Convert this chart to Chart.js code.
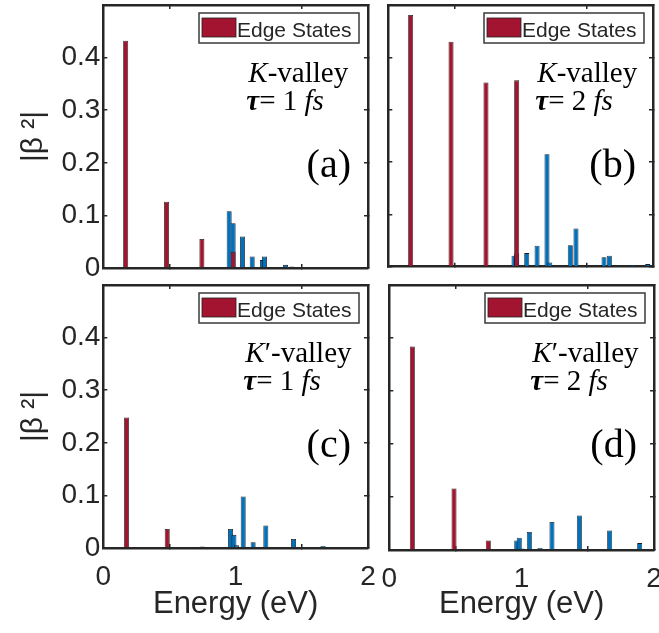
<!DOCTYPE html>
<html>
<head>
<meta charset="utf-8">
<script src="https://cdn.jsdelivr.net/npm/chart.js@4.4.0/dist/chart.umd.min.js"></script>
<style>
  body { margin: 0; background: #fff; }
  canvas { position: absolute; }
</style>
</head>
<body>
<canvas id="panel-a" width="378" height="280" style="left:0;top:0"></canvas>
<canvas id="panel-b" width="281" height="280" style="left:378px;top:0"></canvas>
<canvas id="panel-c" width="378" height="353" style="left:0;top:280px"></canvas>
<canvas id="panel-d" width="281" height="353" style="left:378px;top:280px"></canvas>
<script>
// (a) K-valley, tau = 1 fs
const edgeEnergyA = [0.169, 0.478, 0.745, 0.981];
const edgeBetaA   = [0.432, 0.126, 0.055, 0.031];
const bulkEnergyA = [0.951, 0.981, 1.052, 1.125, 1.203, 1.218, 1.377, 1.424, 1.907];
const bulkBetaA   = [0.108, 0.085, 0.060, 0.022, 0.015, 0.022, 0.006, 0.003, 0.002];
// (b) K-valley, tau = 2 fs
const edgeEnergyB = [0.169, 0.474, 0.738, 0.970];
const edgeBetaB   = [0.481, 0.430, 0.352, 0.356];
const bulkEnergyB = [0.950, 0.970, 1.046, 1.124, 1.199, 1.220, 1.375, 1.418, 1.630, 1.670, 1.846, 1.960];
const bulkBetaB   = [0.021, 0.025, 0.026, 0.040, 0.215, 0.008, 0.041, 0.073, 0.018, 0.021, 0.003, 0.005];
// (c) K'-valley, tau = 1 fs
const edgeEnergyC = [0.176, 0.483, 0.747];
const edgeBetaC   = [0.248, 0.036, 0.003];
const bulkEnergyC = [0.961, 0.987, 1.006, 1.057, 1.132, 1.228, 1.437, 1.660];
const bulkBetaC   = [0.036, 0.025, 0.005, 0.098, 0.011, 0.043, 0.017, 0.004];
// (d) K'-valley, tau = 2 fs
const edgeEnergyD = [0.174, 0.489, 0.748];
const edgeBetaD   = [0.384, 0.116, 0.018];
const bulkEnergyD = [0.963, 0.982, 1.003, 1.058, 1.139, 1.229, 1.436, 1.665, 1.892];
const bulkBetaD   = [0.018, 0.023, 0.003, 0.034, 0.004, 0.053, 0.065, 0.037, 0.013];

const xTicks = [0, 1, 2];
const yTicks = [0, 0.1, 0.2, 0.3, 0.4];

const RED = '#A2142F', BLUE = '#0072BD', FRAME = '#262626', TXT = '#262626';
const SANS = '"Liberation Sans", Arial, sans-serif';
const SERIF = '"Liberation Serif", "Times New Roman", serif';

function drawRuns(ctx, x, y, runs, size) {
  const styles = { r: '', i: 'italic ', bi: 'italic bold ' };
  ctx.textAlign = 'left'; ctx.textBaseline = 'alphabetic'; ctx.fillStyle = '#000';
  runs.forEach(([txt, st]) => {
    ctx.font = `${styles[st]}${size}px ${SERIF}`;
    ctx.fillText(txt, x, y);
    x += ctx.measureText(txt).width;
  });
}

const notesPlugin = {
  id: 'panelNotes',
  afterDraw(chart, args, o) {
    const { ctx, chartArea: a } = chart;
    const ds = chart.data.datasets[0];
    ctx.save();
    const bw = 160, bh = 30, bx = a.right - 9 - bw, by = a.top + 8;
    ctx.fillStyle = '#fff'; ctx.fillRect(bx, by, bw, bh);
    ctx.strokeStyle = '#3a3a3a'; ctx.lineWidth = 1.5; ctx.strokeRect(bx, by, bw, bh);
    ctx.fillStyle = ds.backgroundColor; ctx.fillRect(bx + 3, by + 5, 34, 19);
    ctx.strokeStyle = '#222'; ctx.lineWidth = 0.8; ctx.strokeRect(bx + 3, by + 5, 34, 19);
    ctx.fillStyle = TXT; ctx.font = `21px ${SANS}`; ctx.textBaseline = 'alphabetic'; ctx.textAlign = 'left';
    ctx.fillText(ds.label, bx + 38, by + 24);

    drawRuns(ctx, a.left + o.noteX, a.top + 77, o.valley, 29);
    drawRuns(ctx, a.left + o.noteX - 2, a.top + 105, [['τ', 'bi'], [`= ${o.tau} `, 'r'], ['fs', 'i']], 29);
    ctx.font = `40px ${SERIF}`; ctx.textAlign = 'right'; ctx.fillStyle = '#000';
    ctx.fillText(o.tag, a.right - 17, a.top + 172);
    ctx.restore();
  }
};

// fixed box size and no extra label padding, so the plot area lands where the reference has it
const fixBox = (w, h) => s => {
  if (w !== null) s.width = w;
  if (h !== null) s.height = h;
  s.paddingLeft = s.paddingRight = s.paddingTop = s.paddingBottom = 0;
};

function makePanel(id, edgeE, edgeB, bulkE, bulkB, p) {
  const pts = (xs, ys) => xs.map((x, i) => ({ x, y: ys[i] }));
  const barStyle = { grouped: false, maxBarThickness: 5, barPercentage: 200, borderWidth: 0.8, borderColor: '#1a1a1a', xAxisID: 'x', yAxisID: 'y' };
  const frameGrid = { drawOnChartArea: false, tickLength: -4, color: FRAME, lineWidth: 1.5 };
  const frameBorder = { display: true, color: FRAME, width: 2.5 };
  const pinTicks = vals => s => { s.ticks = vals.concat([s.max]).map(v => ({ value: v })); };
  return new Chart(document.getElementById(id), {
    type: 'bar',
    data: {
      datasets: [
        { label: 'Edge States', data: pts(edgeE, edgeB), backgroundColor: RED, ...barStyle },
        { label: 'Bulk States', data: pts(bulkE, bulkB), backgroundColor: BLUE, ...barStyle }
      ]
    },
    options: {
      responsive: false, animation: false, devicePixelRatio: 1,
      layout: { padding: { left: p.padL, right: p.padR, top: 5, bottom: 0 } },
      scales: {
        x: {
          type: 'linear', display: true, position: 'bottom', min: 0, max: 2, offset: false, z: 1,
          afterFit: fixBox(null, p.xH),
          afterBuildTicks: s => { s.ticks = xTicks.map(v => ({ value: v })); },
          ticks: { display: p.xLabels, padding: 16, color: TXT, maxRotation: 0, font: { family: SANS, size: 28 } },
          grid: frameGrid, border: frameBorder,
          title: { display: p.xLabels, text: 'Energy (eV)', color: TXT, font: { family: SANS, size: 31 }, padding: { top: 0, bottom: 10 } }
        },
        xTop: {
          type: 'linear', display: true, position: 'top', min: 0, max: 2, offset: false, z: 1,
          afterFit: fixBox(null, 0),
          afterBuildTicks: s => { s.ticks = xTicks.map(v => ({ value: v })); },
          ticks: { display: false }, grid: frameGrid, border: frameBorder
        },
        y: {
          type: 'linear', display: true, position: 'left', min: 0, max: 0.5, z: 1,
          afterFit: fixBox(p.yW, null),
          afterBuildTicks: pinTicks(yTicks),
          ticks: {
            display: p.yLabels, padding: 7, color: TXT, font: { family: SANS, size: 28 },
            callback: v => (v > 0.45 ? '' : String(Math.round(v * 10) / 10))
          },
          grid: frameGrid, border: frameBorder,
          title: { display: p.yLabels, text: '|β ²|', color: TXT, font: { family: SANS, size: 30 }, padding: { top: 4, bottom: 0 } }
        },
        yRight: {
          type: 'linear', display: true, position: 'right', min: 0, max: 0.5, z: 1,
          afterFit: fixBox(0, null),
          afterBuildTicks: pinTicks(yTicks),
          ticks: { display: false }, grid: frameGrid, border: frameBorder
        }
      },
      plugins: {
        legend: { display: false }, tooltip: { enabled: false },
        panelNotes: { valley: p.valley, tau: p.tau, tag: p.tag, noteX: p.noteX }
      }
    },
    plugins: [notesPlugin]
  });
}

const K = [['K', 'i'], ['-valley', 'r']];
const Kp = [['K', 'i'], ['\u2032-valley', 'r']];

makePanel('panel-a', edgeEnergyA, edgeBetaA, bulkEnergyA, bulkBetaA,
  { padL: 12, padR: 10, yW: 91.3, xH: 12, xLabels: false, yLabels: true, valley: K, tau: 1, tag: '(a)', noteX: 145 });
makePanel('panel-b', edgeEnergyB, edgeBetaB, bulkEnergyB, bulkBetaB,
  { padL: 10.3, padR: 6, yW: 0, xH: 13.3, xLabels: false, yLabels: false, valley: K, tau: 2, tag: '(b)', noteX: 149 });
makePanel('panel-c', edgeEnergyC, edgeBetaC, bulkEnergyC, bulkBetaC,
  { padL: 12, padR: 10, yW: 91.3, xH: 85, xLabels: true, yLabels: true, valley: Kp, tau: 1, tag: '(c)', noteX: 142 });
makePanel('panel-d', edgeEnergyD, edgeBetaD, bulkEnergyD, bulkBetaD,
  { padL: 11.3, padR: 5, yW: 0, xH: 83, xLabels: true, yLabels: false, valley: Kp, tau: 2, tag: '(d)', noteX: 143 });
</script>
</body>
</html>
